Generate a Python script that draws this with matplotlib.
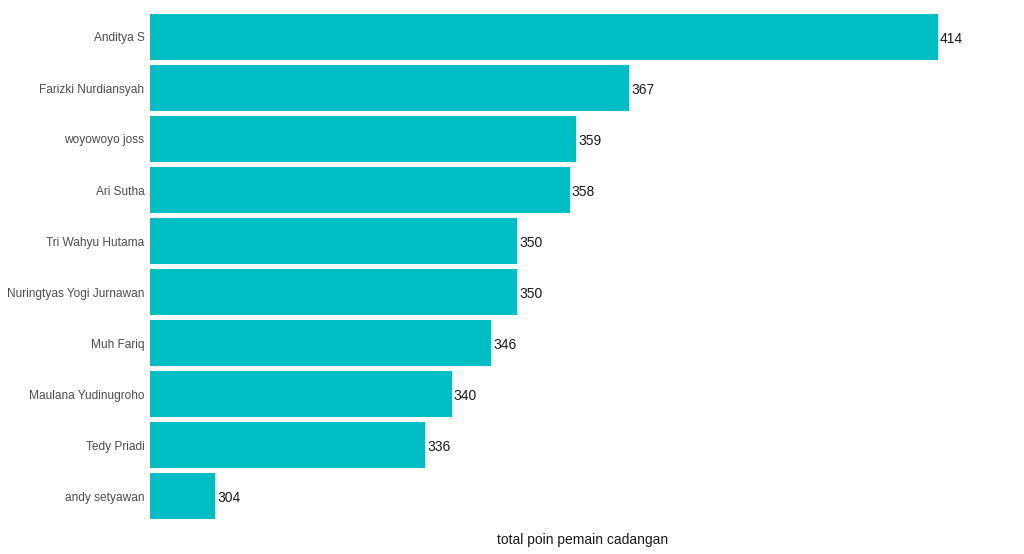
import matplotlib
matplotlib.use("Agg")
import matplotlib.pyplot as plt

names = ["Anditya S", "Farizki Nurdiansyah", "woyowoyo joss", "Ari Sutha",
         "Tri Wahyu Hutama", "Nuringtyas Yogi Jurnawan", "Muh Fariq",
         "Maulana Yudinugroho", "Tedy Priadi", "andy setyawan"]
points = [414, 367, 359, 358, 350, 350, 346, 340, 336, 304]

plt.rcParams['font.family'] = ['Liberation Sans', 'DejaVu Sans']

fig = plt.figure(figsize=(10.24, 5.54), dpi=100)
ax = fig.add_axes([150/1024, 1-526.6/554, 866/1024, 520.2/554])

y = list(range(len(names)))
ax.barh(y, points, height=0.9, color="#00BFC4", left=0)
for yi, v in zip(y, points):
    ax.text(v + 0.3, yi + 0.03, str(v), va="center", ha="left", fontsize=10, color="#1a1a1a")

ax.set_yticks(y)
ax.set_yticklabels(names, fontsize=8.6, color="#4d4d4d")
ax.set_xlim(294.1, 425.9)
ax.set_ylim(len(names) - 0.4, -0.6)
ax.set_xticks([])
ax.tick_params(axis="y", length=0, pad=4)
for s in ax.spines.values():
    s.set_visible(False)
fig.text(583/1024, 1-540/554, "total poin pemain cadangan", ha="center", va="center",
         fontsize=10, color="#1a1a1a")

fig.savefig("out.png", dpi=100)
